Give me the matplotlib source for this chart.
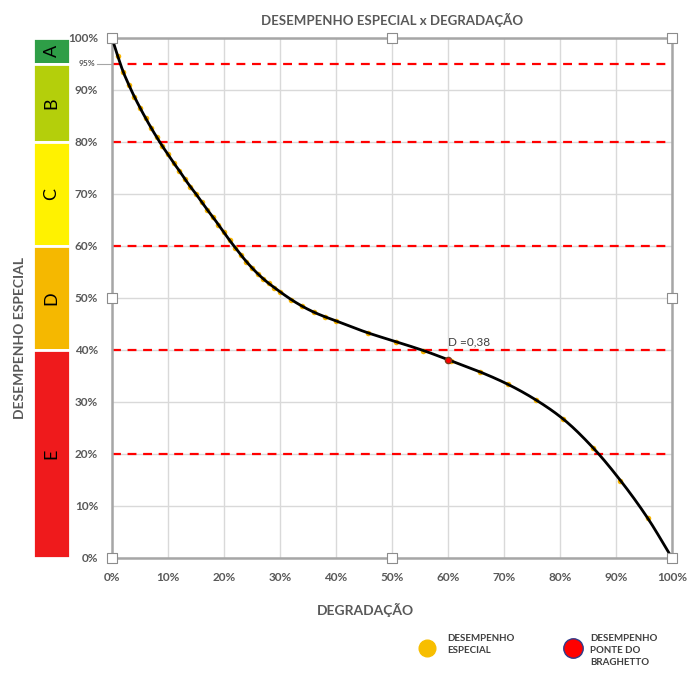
"""Desempenho especial x degradação, with the A-E rating strip on the left."""

import matplotlib.pyplot as plt
import numpy as np
from matplotlib.ticker import PercentFormatter, MultipleLocator

plt.rcParams["font.family"] = ["Lato", "DejaVu Sans"]

# ---------------------------------------------------------------------------
# Data (fractions)
# ---------------------------------------------------------------------------
degradacao = [0.00, 0.01, 0.02, 0.03, 0.04, 0.05, 0.06, 0.07, 0.08, 0.09,
              0.10, 0.11, 0.12, 0.13, 0.14, 0.15, 0.16, 0.17, 0.18, 0.19,
              0.20, 0.21, 0.22, 0.23, 0.24, 0.25, 0.26, 0.27, 0.28, 0.29,
              0.30, 0.32, 0.34, 0.36, 0.38, 0.40, 0.457, 0.507, 0.556, 0.606,
              0.657, 0.707, 0.757, 0.806, 0.859, 0.908, 0.957, 1.00]
desempenho = [1.000, 0.966, 0.935, 0.910, 0.887, 0.866, 0.846, 0.827, 0.809, 0.792,
              0.776, 0.760, 0.745, 0.729, 0.714, 0.700, 0.685, 0.670, 0.656, 0.641,
              0.626, 0.611, 0.597, 0.583, 0.570, 0.558, 0.547, 0.537, 0.528, 0.520,
              0.512, 0.497, 0.484, 0.473, 0.464, 0.456, 0.433, 0.416, 0.399, 0.379,
              0.358, 0.334, 0.304, 0.267, 0.212, 0.149, 0.076, 0.000]

ponte_x, ponte_y = 0.60, 0.38
ponte_label = "D =0,38"

limites = [0.95, 0.80, 0.60, 0.40, 0.20]

classes = ["A", "B", "C", "D", "E"]
classe_inf = [0.95, 0.80, 0.60, 0.40, 0.00]
classe_sup = [1.00, 0.95, 0.80, 0.60, 0.40]
classe_cor = ["#2e9e47", "#b4cf0b", "#fff200", "#f5b800", "#ef1a1c"]

GRAY_TXT = "#595959"


def pchip(x, y, xs):
    """Monotone cubic (Fritsch-Carlson) through the points, evaluated at xs."""
    x = np.asarray(x, float)
    y = np.asarray(y, float)
    h = np.diff(x)
    d = np.diff(y) / h
    m = np.zeros_like(y)
    m[0], m[-1] = d[0], d[-1]
    for k in range(1, len(x) - 1):
        if d[k - 1] * d[k] > 0:
            w1 = 2 * h[k] + h[k - 1]
            w2 = h[k] + 2 * h[k - 1]
            m[k] = (w1 + w2) / (w1 / d[k - 1] + w2 / d[k])
    i = np.clip(np.searchsorted(x, xs) - 1, 0, len(x) - 2)
    t = (xs - x[i]) / h[i]
    h00 = 2 * t**3 - 3 * t**2 + 1
    h10 = t**3 - 2 * t**2 + t
    h01 = -2 * t**3 + 3 * t**2
    h11 = t**3 - t**2
    return h00 * y[i] + h10 * h[i] * m[i] + h01 * y[i + 1] + h11 * h[i] * m[i + 1]


# ---------------------------------------------------------------------------
# Figure
# ---------------------------------------------------------------------------
fig = plt.figure(figsize=(6.88, 6.75), dpi=100)
ax = fig.add_axes([112 / 688, 117 / 675, 560 / 688, 520 / 675])

ax.set_xlim(0, 1)
ax.set_ylim(0, 1)
ax.xaxis.set_major_locator(MultipleLocator(0.1))
ax.yaxis.set_major_locator(MultipleLocator(0.1))
ax.xaxis.set_major_formatter(PercentFormatter(1.0, decimals=0))
ax.yaxis.set_major_formatter(PercentFormatter(1.0, decimals=0))
ax.grid(True, color="#d9d9d9", linewidth=1.0)
ax.set_axisbelow(True)
ax.tick_params(length=0, labelsize=8.5, labelcolor=GRAY_TXT, pad=10)
for lbl in ax.get_xticklabels() + ax.get_yticklabels():
    lbl.set_fontweight("bold")
for side in ax.spines.values():
    side.set_color("#a6a6a6")
    side.set_linewidth(1.8)

for lim in limites:
    ax.axhline(lim, color="#ff0000", linestyle=(0, (4, 3)), linewidth=1.6, zorder=2)

# data points and the smooth line through them
ax.scatter(degradacao, desempenho, s=16, color="#f7b500", zorder=3, linewidths=0)
xs = np.linspace(0, 1, 400)
ax.plot(xs, pchip(degradacao, desempenho, xs), color="black", linewidth=2.0, zorder=4)

ax.scatter([ponte_x], [ponte_y], s=20, color="#ff0000", edgecolors="#7a3b1a",
           linewidths=1.0, zorder=5)
ax.text(ponte_x, ponte_y + 0.025, ponte_label, fontsize=8.5, color="#404040",
        ha="left", va="bottom")

# 95% extra label
ax.text(-0.03, 0.95, "95%", fontsize=6, fontweight="bold", color=GRAY_TXT,
        ha="right", va="center", clip_on=False)
ax.plot([-0.027, -0.002], [0.95, 0.95], color="#a6a6a6", linewidth=0.8, clip_on=False)

# selection handles
hx = [0, 0.5, 1, 0, 1, 0, 0.5, 1]
hy = [1, 1, 1, 0.5, 0.5, 0, 0, 0]
ax.scatter(hx, hy, marker="s", s=60, facecolor="white", edgecolor="#8c8c8c",
           linewidths=0.8, zorder=6, clip_on=False)

# rating strip
axr = fig.add_axes([33 / 688, 117 / 675, 37 / 688, 520 / 675])
axr.set_xlim(0, 1)
axr.set_ylim(0, 1)
axr.axis("off")
for nome, lo, hi, cor in zip(classes, classe_inf, classe_sup, classe_cor):
    axr.bar(0.5, hi - lo, bottom=lo, width=1.0, color=cor,
            edgecolor="white", linewidth=2.0)
    axr.text(0.5, (lo + hi) / 2, nome, rotation=90, ha="center", va="center",
             fontsize=13, color="black")

# titles
fig.text(392 / 688, 1 - 20 / 675, "DESEMPENHO ESPECIAL x DEGRADAÇÃO",
         ha="center", va="center", fontsize=9.5, fontweight="bold", color=GRAY_TXT)
fig.text(365 / 688, 1 - 610 / 675, "DEGRADAÇÃO", ha="center", va="center",
         fontsize=10, fontweight="bold", color=GRAY_TXT)
fig.text(20 / 688, 1 - 338 / 675, "DESEMPENHO ESPECIAL", rotation=90,
         ha="center", va="center", fontsize=10, fontweight="bold", color=GRAY_TXT)

# legend
fig.lines.append(plt.Line2D([427 / 688], [1 - 648 / 675], marker="o", markersize=12,
                            markerfacecolor="#f7be00", markeredgecolor="#f7be00",
                            transform=fig.transFigure))
fig.text(447 / 688, 1 - 634 / 675, "DESEMPENHO\nESPECIAL", fontsize=7,
         fontweight="bold", color="#404040", ha="left", va="top", linespacing=1.4)
fig.lines.append(plt.Line2D([573 / 688], [1 - 648 / 675], marker="o", markersize=14,
                            markerfacecolor="#ff0000", markeredgecolor="#2f3b8a",
                            markeredgewidth=1.0, transform=fig.transFigure))
fig.text(590 / 688, 1 - 634 / 675, "DESEMPENHO\nPONTE DO\nBRAGHETTO", fontsize=7,
         fontweight="bold", color="#404040", ha="left", va="top", linespacing=1.4)

fig.savefig("out.png", dpi=100)
